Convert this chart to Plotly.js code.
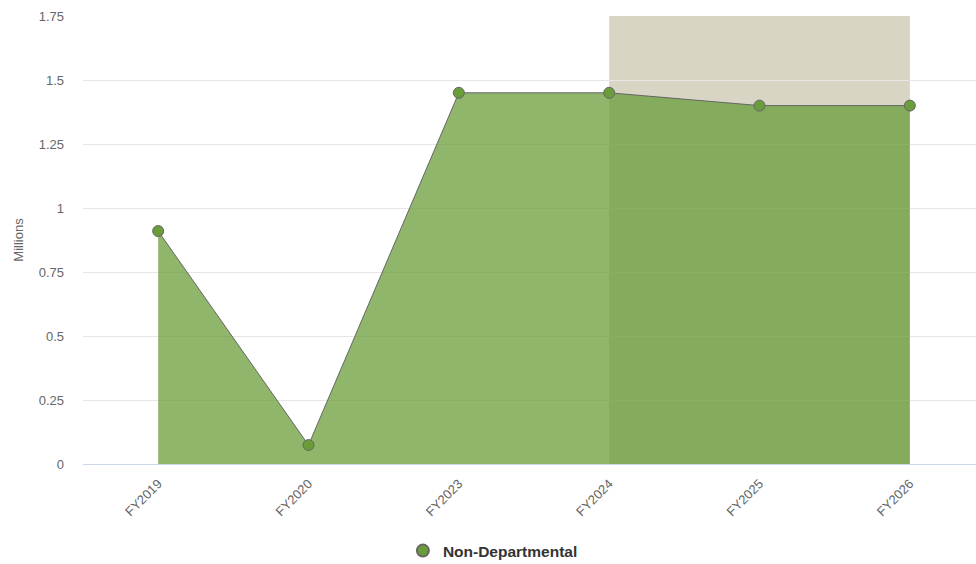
<!DOCTYPE html>
<html>
<head>
<meta charset="utf-8">
<script src="https://cdn.plot.ly/plotly-3.0.1.min.js"></script>
<style>html,body{margin:0;padding:0;background:#fff;}#chart{width:976px;height:564px;}</style>
</head>
<body>
<div id="chart"></div>
<script>
const categories = ["FY2019", "FY2020", "FY2023", "FY2024", "FY2025", "FY2026"];
const values = [0.91, 0.074, 1.45, 1.45, 1.4, 1.4];
const seriesName = "Non-Departmental";
const yTicks = [0, 0.25, 0.5, 0.75, 1, 1.25, 1.5, 1.75];
const yTickText = ["0", "0.25", "0.5", "0.75", "1", "1.25", "1.5", "1.75"];
const projectedStart = "FY2024";
const projectedEnd = "FY2026";

const font = "Liberation Sans, Arial, Helvetica, sans-serif";

const traces = [
  {
    x: categories, y: values, type: "scatter", mode: "lines",
    fill: "tozeroy", fillcolor: "rgba(106,157,58,0.75)",
    line: {color: "#666666", width: 1},
    showlegend: false, hoverinfo: "skip"
  },
  {
    x: categories, y: values, type: "scatter", mode: "markers",
    name: seriesName,
    marker: {color: "#6a9d3a", size: 11, line: {color: "#666666", width: 1}}
  }
];

const layout = {
  width: 976, height: 564,
  margin: {l: 83, r: 0, t: 16, b: 100},
  paper_bgcolor: "#ffffff", plot_bgcolor: "#ffffff",
  font: {family: font, size: 13, color: "#666666"},
  xaxis: {
    type: "category", categoryorder: "array", categoryarray: categories,
    range: [-0.5, 5.44], tickangle: -45, showgrid: false, zeroline: false,
    showline: true, linecolor: "#ccd6eb", linewidth: 1, automargin: false,
    ticks: "", ticklabelstandoff: 6, tickfont: {family: font, size: 13, color: "#666666"}
  },
  yaxis: {
    range: [0, 1.75], tickvals: yTicks, ticktext: yTickText, automargin: false,
    showgrid: true, gridcolor: "#e6e6e6", gridwidth: 1, zeroline: false,
    ticks: "", ticklabelstandoff: 18, tickfont: {family: font, size: 13, color: "#666666"},
    title: {text: "Millions", font: {family: font, size: 13, color: "#666666"}, standoff: 12}
  },
  shapes: [{
    type: "rect", xref: "x", yref: "y",
    x0: categories.indexOf(projectedStart), x1: categories.indexOf(projectedEnd),
    y0: 0, y1: 1.75, fillcolor: "#d8d5c4", line: {width: 0}, layer: "below"
  }],
  legend: {
    orientation: "h", xref: "container", yref: "container",
    x: 0.505, xanchor: "center", y: 0.023, yanchor: "middle",
    font: {family: font, size: 15.5, color: "#333333", weight: "bold"},
    itemsizing: "constant"
  },
  showlegend: true
};

Plotly.newPlot("chart", traces, layout, {displayModeBar: false, staticPlot: true});
</script>
</body>
</html>
